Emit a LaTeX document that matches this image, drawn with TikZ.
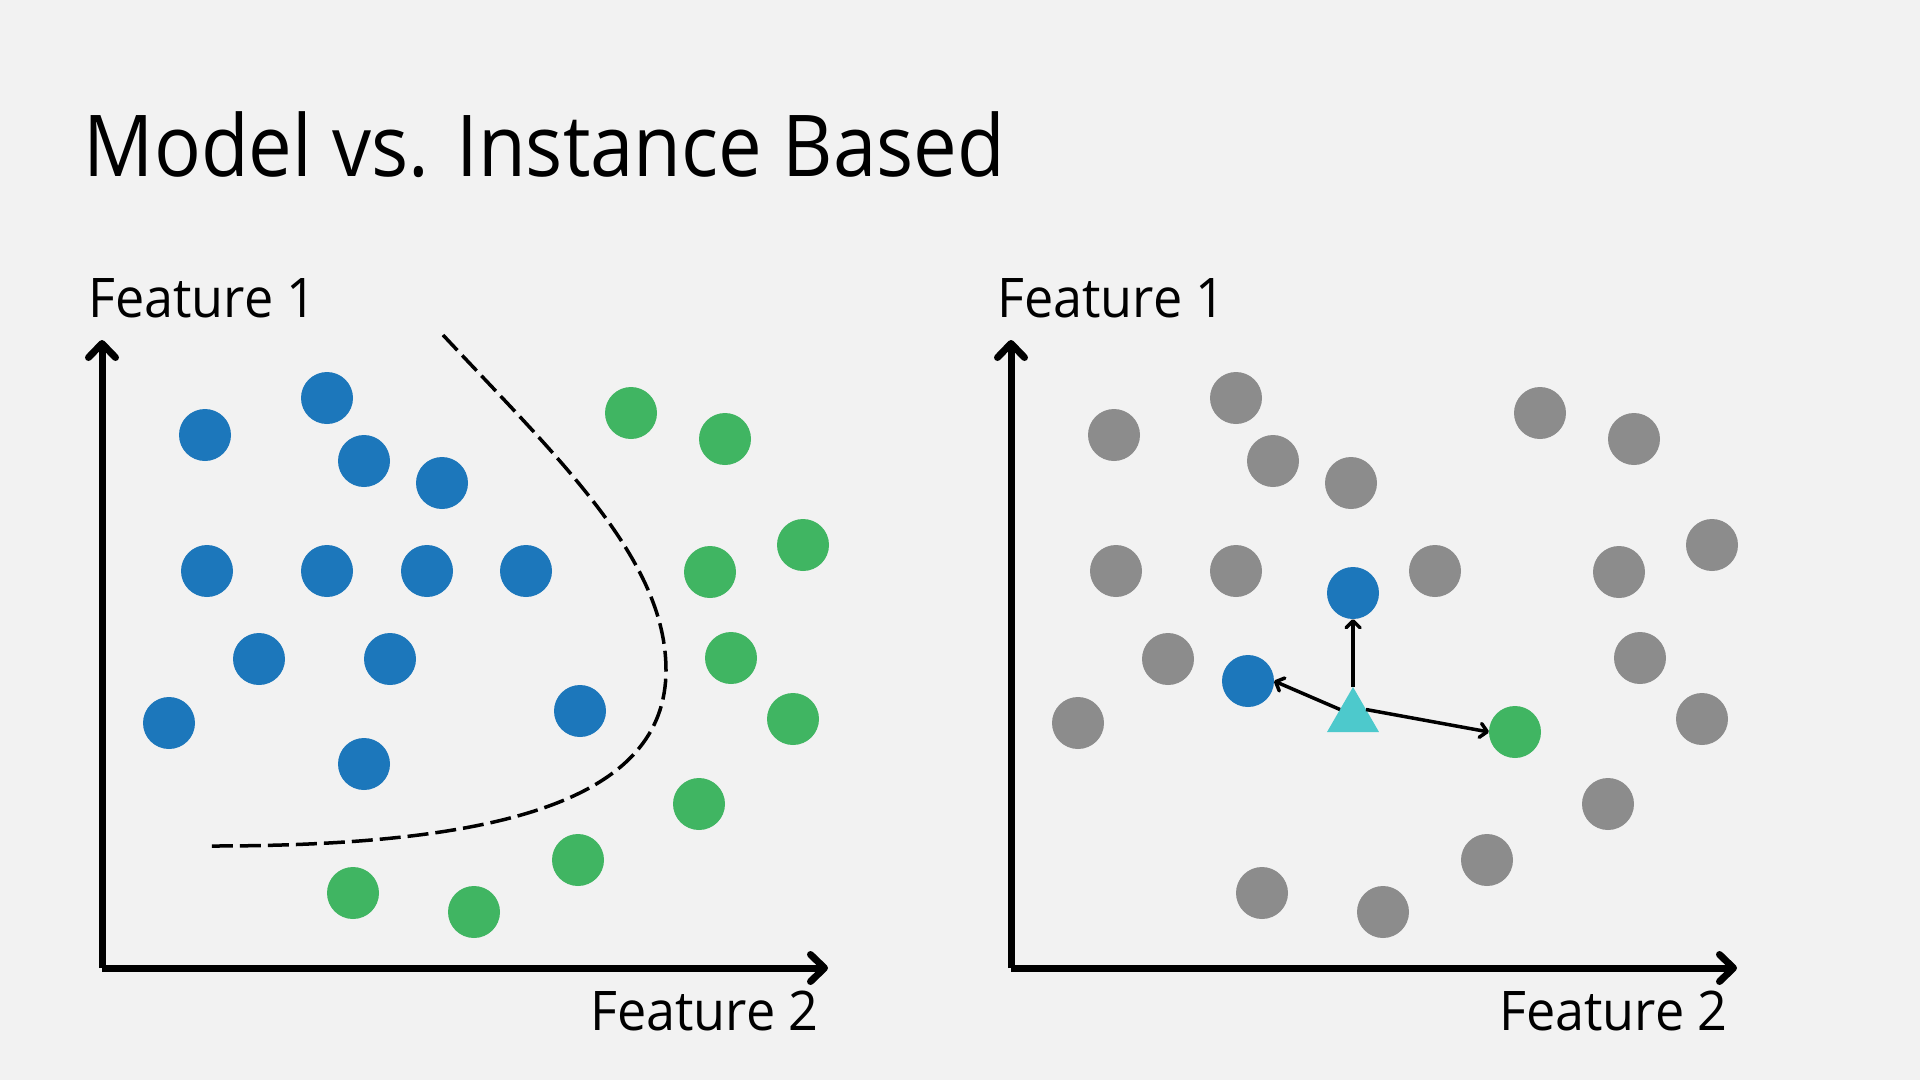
\documentclass[tikz,border=0pt]{standalone}
\usepackage{fontspec}
\setmainfont{Open Sans}
\usepackage{graphicx}
\usetikzlibrary{arrows.meta,shapes.geometric}
\definecolor{bgc}{HTML}{F2F2F2}
\definecolor{ptblue}{HTML}{1C77BB}
\definecolor{ptgreen}{HTML}{40B562}
\definecolor{ptgray}{HTML}{8C8C8C}
\definecolor{ptcyan}{HTML}{4DC9CC}
\newcommand{\lbltext}[1]{\scalebox{0.955}[1]{\fontsize{54.6}{60}\selectfont #1}}
\begin{document}
\begin{tikzpicture}[x=1pt,y=-1pt,
  ptdot/.style={circle,inner sep=0pt,outer sep=0pt,minimum size=52pt,draw=none},
  bluedot/.style={ptdot,fill=ptblue},
  greendot/.style={ptdot,fill=ptgreen},
  graydot/.style={ptdot,fill=ptgray},
  axisline/.style={line width=7pt,-{Straight Barb[length=14pt,width=27pt,round]}},
  link/.style={line width=3.5pt,-{Straight Barb[length=7pt,width=14pt,round]}},
  boundary/.style={line width=3.5pt,dash pattern=on 21pt off 7pt},
  lbl/.style={inner sep=0pt,anchor=base west}]
\useasboundingbox (0,0) rectangle (1920,1080);
\fill[bgc] (0,0) rectangle (1920,1080);
% title
\node[inner sep=0pt,anchor=base west] (title) at (83.5,176)
  {\scalebox{0.912}[1]{\fontsize{85.4}{90}\selectfont Model vs. Instance Based}};
% ---------- left panel ----------
\coordinate (oL) at (102,968);
\coordinate (yL) at (102,340);
\coordinate (xL) at (828,968);
\draw[axisline] (oL) -- (yL);
\draw[axisline] (oL) -- (xL);
\node[lbl] (f1L) at (88,317) {\lbltext{Feature 1}};
\node[lbl] (f2L) at (590,1030) {\lbltext{Feature 2}};
\foreach \n/\p in {b1/{(205,435)},b2/{(327,398)},b3/{(364,461)},b4/{(442,483)},
  b5/{(207,571)},b6/{(327,571)},b7/{(427,571)},b8/{(526,571)},b9/{(259,659)},
  b10/{(390,659)},b11/{(169,723)},b12/{(364,764)},b13/{(580,711)}}
  \node[bluedot] (\n) at \p {};
\foreach \n/\p in {g1/{(631,413)},g2/{(725,439)},g3/{(803,545)},g4/{(710,572)},
  g5/{(731,658)},g6/{(793,719)},g7/{(699,804)},g8/{(578,860)},g9/{(353,893)},
  g10/{(474,912)}}
  \node[greendot] (\n) at \p {};
\coordinate (c0) at (443,335);
\coordinate (c1) at (666,670);
\coordinate (c2) at (211,846);
\draw[boundary] (c0) .. controls (560,460) and (666,560) .. (c1)
  .. controls (666,800) and (500,846) .. (c2);
% ---------- right panel ----------
\coordinate (oR) at (1011,968);
\coordinate (yR) at (1011,340);
\coordinate (xR) at (1737,968);
\draw[axisline] (oR) -- (yR);
\draw[axisline] (oR) -- (xR);
\node[lbl] (f1R) at (997,317) {\lbltext{Feature 1}};
\node[lbl] (f2R) at (1499,1030) {\lbltext{Feature 2}};
\foreach \n/\p in {r1/{(1114,435)},r2/{(1236,398)},r3/{(1273,461)},r4/{(1351,483)},
  r5/{(1116,571)},r6/{(1236,571)},r8/{(1435,571)},r9/{(1168,659)},r11/{(1078,723)},
  s1/{(1540,413)},s2/{(1634,439)},s3/{(1712,545)},s4/{(1619,572)},
  s5/{(1640,658)},s6/{(1702,719)},s7/{(1608,804)},s8/{(1487,860)},s9/{(1262,893)},
  s10/{(1383,912)}}
  \node[graydot] (\n) at \p {};
\node[bluedot] (bu) at (1353,593) {};
\node[bluedot] (bl) at (1248,681) {};
\node[greendot] (gr) at (1515,732) {};
\node[regular polygon,regular polygon sides=3,minimum size=60pt,inner sep=0pt,
  outer sep=0pt,draw=none,fill=ptcyan] (tri) at (1353,717) {};
\draw[link] (tri.north) -- (bu.south);
\draw[link] (tri.150) -- (bl.east);
\draw[link] (tri.30) -- (gr.west);
\end{tikzpicture}
\end{document}
